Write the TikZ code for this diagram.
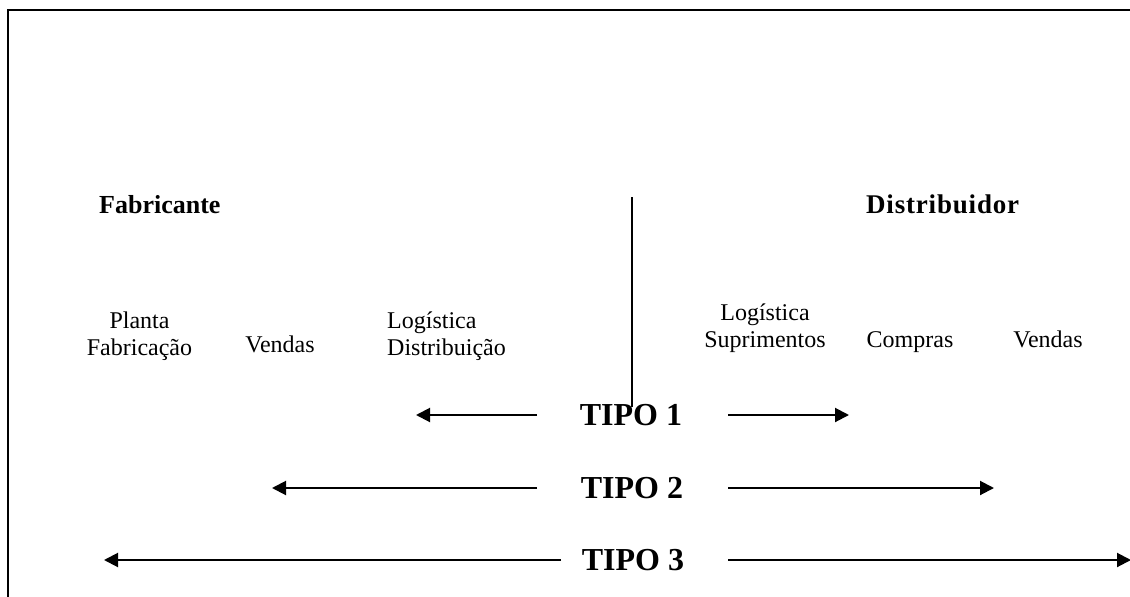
\documentclass[tikz,border=0pt]{standalone}
\usepackage{fontspec}
\setmainfont{Liberation Serif}
\usetikzlibrary{arrows.meta}
\begin{document}
\begin{tikzpicture}[x=1pt,y=-1pt,
  lbl/.style={font=\fontsize{24}{26.5}\selectfont, inner sep=0pt, align=center, anchor=base},
  head/.style={font=\fontsize{26}{30}\selectfont\bfseries, inner sep=0pt, anchor=base west},
  tipo/.style={font=\fontsize{32}{36}\selectfont\bfseries, inner sep=0pt, anchor=base},
  arr/.style={line width=2pt, -{Triangle[length=14pt,width=14pt]}},
  frame/.style={line width=2pt},
]
\useasboundingbox (0,0) rectangle (1130,597);
\clip (0,0) rectangle (1130,597);
\draw[frame] (8,10) rectangle (1145,610);

% headings
\node[head] (fab) at (99,213) {Fabricante};
\node[head, font=\fontsize{27}{30}\selectfont\bfseries\addfontfeature{LetterSpace=3}] (dist) at (866,213) {Distribuidor};

% divider
\coordinate (vtop) at (632,197);
\coordinate (vbot) at (632,407);
\draw[line width=2pt] (vtop) -- (vbot);

% function labels (base = last line)
\node[lbl] (planta) at (139.5,355) {Planta\\Fabricação};
\node[lbl] (vendasf) at (280,352) {Vendas};
\node[lbl, align=left, anchor=base west] (logd) at (387,355) {Logística\\Distribuição};
\node[lbl] (logs) at (765,347) {Logística\\Suprimentos};
\node[lbl] (compras) at (910,347) {Compras};
\node[lbl] (vendasd) at (1048,347) {Vendas};

% tipo labels
\node[tipo] (t1) at (631,425) {TIPO 1};
\node[tipo] (t2) at (632,498) {TIPO 2};
\node[tipo] (t3) at (633,570) {TIPO 3};

% arrow ends
\coordinate (a1l) at (537,415);  \coordinate (a1lt) at (416,415);
\coordinate (a1r) at (728,415);  \coordinate (a1rt) at (849,415);
\coordinate (a2l) at (537,488);  \coordinate (a2lt) at (272,488);
\coordinate (a2r) at (728,488);  \coordinate (a2rt) at (994,488);
\coordinate (a3l) at (561,560);  \coordinate (a3lt) at (104,560);
\coordinate (a3r) at (728,560);  \coordinate (a3rt) at (1131,560);

\draw[arr] (a1l) -- (a1lt);
\draw[arr] (a1r) -- (a1rt);
\draw[arr] (a2l) -- (a2lt);
\draw[arr] (a2r) -- (a2rt);
\draw[arr] (a3l) -- (a3lt);
\draw[arr] (a3r) -- (a3rt);
\end{tikzpicture}
\end{document}
